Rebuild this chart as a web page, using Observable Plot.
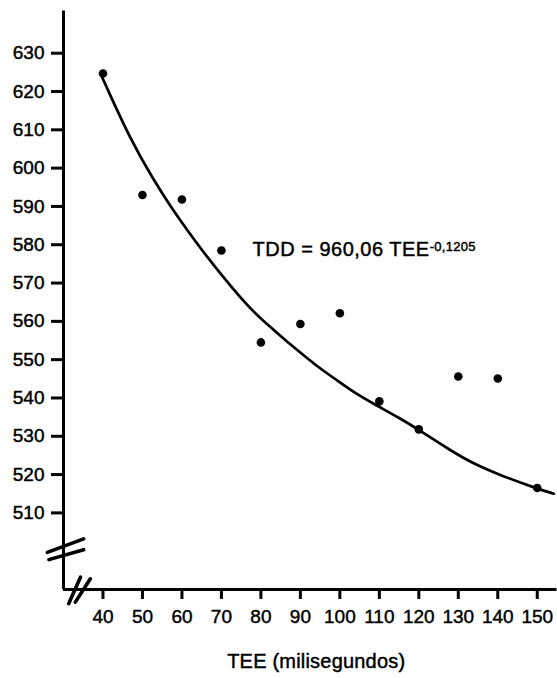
<!DOCTYPE html>
<html><head><meta charset="utf-8">
<script src="https://cdn.jsdelivr.net/npm/d3@7"></script>
<script src="https://cdn.jsdelivr.net/npm/@observablehq/plot@0.6"></script>
<style>
body{margin:0;background:#fff}
svg{display:block}
svg text{stroke:#000;stroke-width:0.45px}
</style>
</head><body><div id="chart"></div>
<script>
// Observed points
const tee = [40, 50, 60, 70, 80, 90, 100, 110, 120, 130, 140, 150];
const tdd = [624.7, 593, 591.8, 578.5, 554.5, 559.3, 562.1, 539.1, 531.8, 545.6, 545.1, 516.5];
// Fitted curve as drawn
const curveTee = [39.8, 47.0, 52.9, 57.1, 61.3, 65.5, 69.8, 74.0, 78.2, 82.4, 86.7, 90.9, 95.1, 99.3, 103.5, 107.8, 115.4, 120.0, 128.0, 133.9, 140.7, 150.0, 154.2];
const curveTdd = [623.7, 607.3, 596.8, 590.0, 583.9, 578.0, 572.4, 567.2, 562.4, 558.5, 554.6, 551.1, 547.6, 544.6, 541.5, 538.9, 534.6, 531.7, 526.3, 522.8, 519.8, 516.3, 515.0];
// Ticks
const yTicks = [510, 520, 530, 540, 550, 560, 570, 580, 590, 600, 610, 620, 630];
const xTicks = [40, 50, 60, 70, 80, 90, 100, 110, 120, 130, 140, 150];
// Texts
const equation = "TDD = 960,06 TEE";
const exponent = "-0,1205";
const xLabel = "TEE (milisegundos)";
// Axis extents (with breaks)
const xDomain = [30, 155];
const yDomain = [490, 640];
const yTop = 641;
// Axis break marks (data units)
const breakX1 = [25.9, 26.3, 31.3, 33.0];
const breakY1 = [499.7, 497.8, 486.3, 486.7];
const breakX2 = [35.1, 35.1, 34.3, 36.8];
const breakY2 = [503.2, 500.4, 493.2, 492.8];

const points = tee.map((x, i) => ({x, y: tdd[i]}));
const curve = curveTee.map((x, i) => ({x, y: curveTdd[i]}));
const breaks = breakX1.map((x1, i) => ({x1, y1: breakY1[i], x2: breakX2[i], y2: breakY2[i]}));

const font = "'Liberation Sans', Arial, Helvetica, sans-serif";

const plot = Plot.plot({
  width: 557,
  height: 678,
  marginLeft: 63,
  marginRight: 0.5,
  marginTop: 14.4,
  marginBottom: 89,
  x: {domain: xDomain},
  y: {domain: yDomain},
  style: {fontFamily: font, fontSize: "19px", color: "#000", background: "#fff"},
  marks: [
    Plot.ruleY([yDomain[0]], {x1: xDomain[0], x2: xDomain[1], strokeWidth: 3}),
    Plot.ruleX([xDomain[0]], {y1: yDomain[0], y2: yTop, strokeWidth: 3}),
    Plot.axisY({ticks: yTicks, tickSize: 12, tickPadding: 7, strokeWidth: 3, fontSize: 19, label: null, tickFormat: d => String(d)}),
    Plot.axisX({ticks: xTicks, tickSize: 10, tickPadding: 10, strokeWidth: 3, fontSize: 19, label: null, tickFormat: d => String(d)}),
    Plot.link(breaks, {x1: "x1", y1: "y1", x2: "x2", y2: "y2", strokeWidth: 3.6, strokeLinecap: "round"}),
    Plot.line(curve, {x: "x", y: "y", curve: "basis", strokeWidth: 2.7}),
    Plot.dot(points, {x: "x", y: "y", r: 4.3, fill: "#000"}),
    Plot.text([equation], {text: d => d, frameAnchor: "top-left", dx: 189, dy: 227.2, textAnchor: "start", fontSize: 20, className: "eq"}),
    Plot.text([xLabel], {text: d => d, frameAnchor: "bottom", dx: 6, dy: 78.8, fontSize: 20, className: "xlab"})
  ]
});

d3.select(plot).select(".eq text")
  .attr("letter-spacing", "0.5px")
  .append("tspan").attr("dy", -5).attr("font-size", 13).attr("letter-spacing", "0.3px").text(exponent);
d3.select(plot).select(".xlab text").attr("letter-spacing", "0.2px");

document.getElementById("chart").appendChild(plot);
</script>
</body></html>
